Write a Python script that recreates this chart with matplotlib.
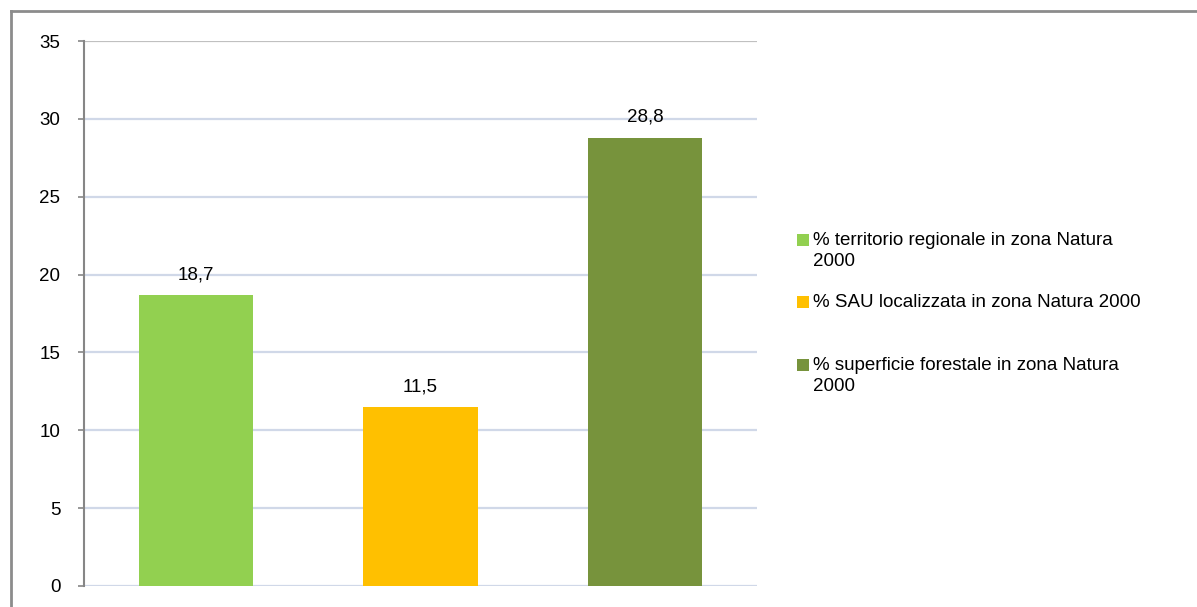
import matplotlib
matplotlib.use("Agg")
import matplotlib.pyplot as plt
from matplotlib.patches import Rectangle
from matplotlib.lines import Line2D

categories = ["% territorio regionale in zona Natura\n2000",
              "% SAU localizzata in zona Natura 2000",
              "% superficie forestale in zona Natura\n2000"]
values = [18.7, 11.5, 28.8]
labels = ["18,7", "11,5", "28,8"]
colors = ["#92D050", "#FFC000", "#77933C"]
yticks = [0, 5, 10, 15, 20, 25, 30, 35]

plt.rcParams['font.family'] = ['Liberation Sans', 'DejaVu Sans']

W, H = 1197, 607
FS = 13.5
fig = plt.figure(figsize=(W/100, H/100), dpi=100)
ax = fig.add_axes([84/W, 1-586/H, (757-84)/W, (586-41)/H])

x = list(range(len(values)))
ax.bar(x, values, width=0.51, color=colors, zorder=3)
for xi, v, lab in zip(x, values, labels):
    ax.text(xi, v + 0.75, lab, ha='center', va='bottom', fontsize=FS, color='black', zorder=4)

ax.set_xlim(-0.5, 2.5)
ax.set_ylim(0, 35)
ax.set_yticks(yticks)
ax.set_yticklabels([str(t) for t in yticks], fontsize=FS)
ax.set_xticks([])
for t in yticks:
    c = '#c0c0c0' if t == 35 else '#d0d8e8'
    ax.axhline(t, color=c, lw=1.6, zorder=1)
for s in ['top', 'right', 'bottom']:
    ax.spines[s].set_visible(False)
ax.spines['left'].set_color('#868686')
ax.spines['left'].set_linewidth(1.5)
ax.spines['left'].set_zorder(5)
ax.tick_params(axis='y', length=4, width=1.2, color='#868686', pad=13, labelcolor='black')

# Figure frame
fig.add_artist(Line2D([10.5/W, 10.5/W], [0, 1-11/H], transform=fig.transFigure, color='#8c8c8c', lw=2))
fig.add_artist(Line2D([10.5/W, 1], [1-11/H, 1-11/H], transform=fig.transFigure, color='#8c8c8c', lw=2))

# Legend (manual)
entry_y = [240, 302, 365]
for yy, lab, c in zip(entry_y, categories, colors):
    fig.add_artist(Rectangle((797/W, 1-(yy+6)/H), 12/W, 12/H, transform=fig.transFigure,
                             facecolor=c, edgecolor='none'))
    fig.text(813/W, 1-(yy-8)/H, lab, fontsize=FS, ha='left', va='top', linespacing=1.32)

fig.savefig("out.png", dpi=100, facecolor='white')
